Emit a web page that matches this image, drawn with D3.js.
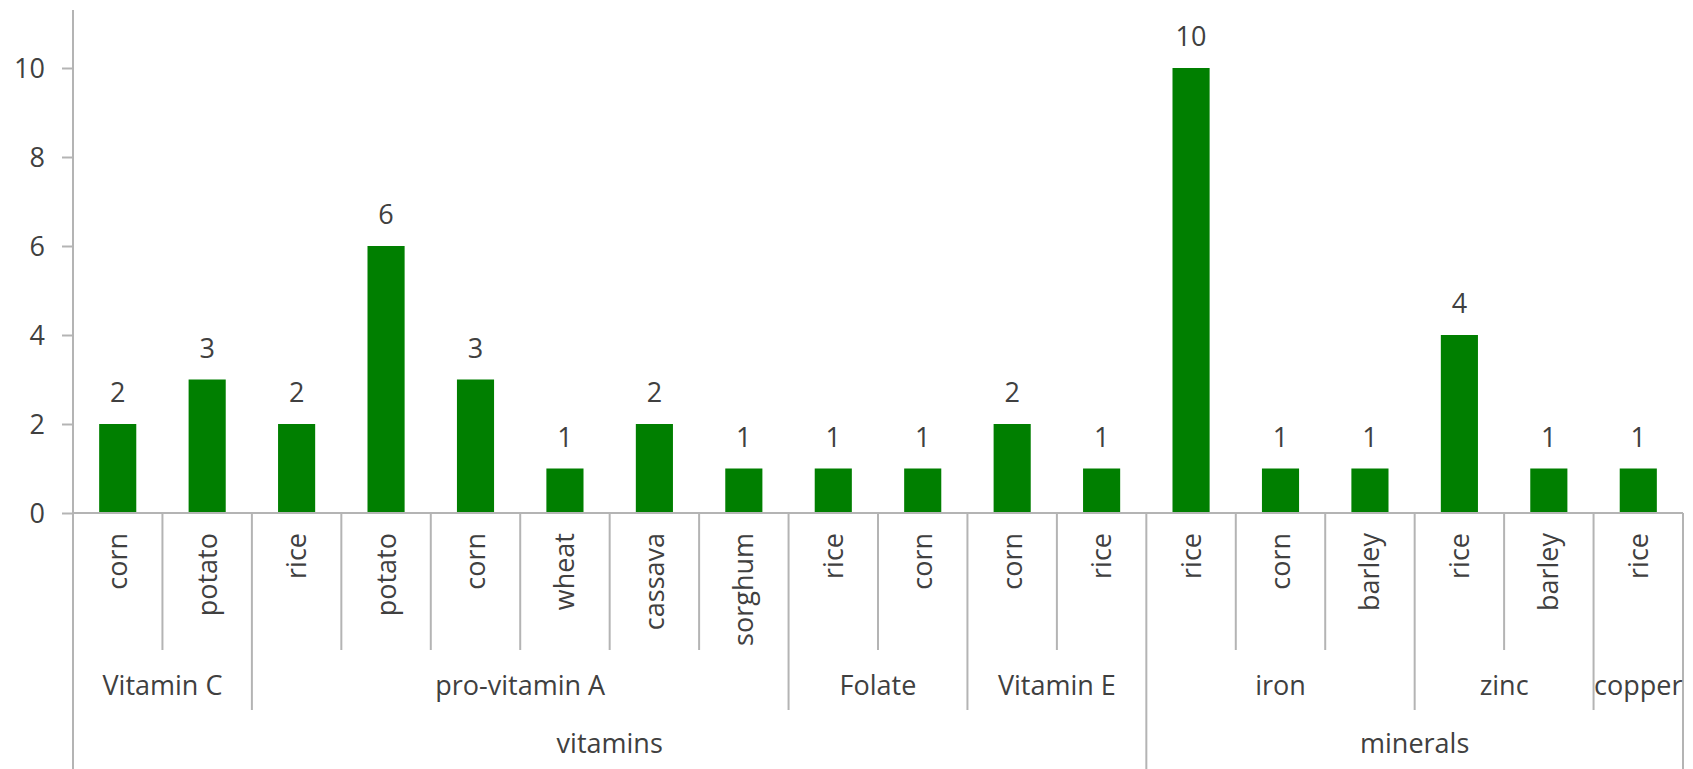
<!DOCTYPE html>
<html>
<head>
<meta charset="utf-8">
<script src="https://cdn.jsdelivr.net/npm/d3@7/dist/d3.min.js"></script>
<style>
  html, body { margin: 0; padding: 0; background: #fff; }
  svg { display: block; }
  text { font-family: "Open Sans", "Noto Sans", sans-serif; fill: #404040; }
</style>
</head>
<body>
<svg id="chart"></svg>
<script>
// bar data, left to right
const crops = ['corn', 'potato', 'rice', 'potato', 'corn', 'wheat', 'cassava', 'sorghum',
    'rice', 'corn', 'corn', 'rice', 'rice', 'corn', 'barley', 'rice', 'barley', 'rice'];
const values = [2, 3, 2, 6, 3, 1, 2, 1, 1, 1, 2, 1, 10, 1, 1, 4, 1, 1];
const nutrients = ['Vitamin C', 'Vitamin C', 'pro-vitamin A', 'pro-vitamin A', 'pro-vitamin A',
    'pro-vitamin A', 'pro-vitamin A', 'pro-vitamin A', 'Folate', 'Folate', 'Vitamin E', 'Vitamin E',
    'iron', 'iron', 'iron', 'zinc', 'zinc', 'copper'];
const classes = ['vitamins', 'vitamins', 'vitamins', 'vitamins', 'vitamins', 'vitamins',
    'vitamins', 'vitamins', 'vitamins', 'vitamins', 'vitamins', 'vitamins',
    'minerals', 'minerals', 'minerals', 'minerals', 'minerals', 'minerals'];
const yTicks = [0, 2, 4, 6, 8, 10];

const W = 1693, H = 769;
const plotLeft = 73, plotRight = 1683, base = 513, plotTop = 68;
const axisColor = '#b4b4b4';
const fontSize = 27;

const svg = d3.select('#chart').attr('width', W).attr('height', H);

const x = d3.scaleBand()
    .domain(d3.range(crops.length))
    .range([plotLeft, plotRight])
    .paddingInner(0.585)
    .paddingOuter(0.2925);

// band edges without padding, for separators
const step = (plotRight - plotLeft) / crops.length;
const edge = (i) => plotLeft + i * step;

const y = d3.scaleLinear().domain([0, 10]).range([base, plotTop]);

// y axis
const axisY = d3.axisLeft(y)
    .tickValues(yTicks)
    .tickSize(11)
    .tickPadding(17)
    .tickFormat(d3.format('d'));

const gy = svg.append('g')
    .attr('transform', `translate(${plotLeft},0)`)
    .call(axisY);
gy.select('.domain').remove();
gy.selectAll('.tick line').attr('stroke', axisColor).attr('stroke-width', 2);
gy.selectAll('.tick text')
    .attr('font-size', fontSize)
    .attr('dy', '0.36em')
    .style('fill', '#404040');

// bars
svg.append('g').selectAll('rect')
    .data(values)
    .join('rect')
    .attr('x', (d, i) => x(i))
    .attr('y', (d) => y(d))
    .attr('width', x.bandwidth())
    .attr('height', (d) => base - y(d))
    .attr('fill', '#007f00');

// value labels
svg.append('g').selectAll('text')
    .data(values)
    .join('text')
    .attr('x', (d, i) => x(i) + x.bandwidth() / 2)
    .attr('y', (d) => y(d) - 22)
    .attr('text-anchor', 'middle')
    .attr('font-size', fontSize)
    .text((d) => d);

// axis lines
const lines = svg.append('g')
    .attr('stroke', axisColor)
    .attr('stroke-width', 2);

lines.append('line')
    .attr('x1', plotLeft).attr('x2', plotLeft)
    .attr('y1', 10).attr('y2', H);

lines.append('line')
    .attr('x1', plotLeft).attr('x2', plotRight)
    .attr('y1', base).attr('y2', base);

// group runs for the multi-level axis
const runs = (arr) => {
    const out = [];
    arr.forEach((v, i) => {
        const last = out[out.length - 1];
        if (last && last.key === v && classes[i] === classes[last.start]) {
            last.end = i + 1;
        } else {
            out.push({ key: v, start: i, end: i + 1 });
        }
    });
    return out;
};

const nutrientRuns = runs(nutrients);
const classRuns = runs(classes);

const nutrientStarts = new Set(nutrientRuns.map((d) => d.start));
const classStarts = new Set(classRuns.map((d) => d.start));

// separators: depth depends on which level the boundary belongs to
d3.range(1, crops.length + 1).forEach((i) => {
    let y2 = 650;
    if (i === crops.length || classStarts.has(i)) {
        y2 = H;
    } else if (nutrientStarts.has(i)) {
        y2 = 710;
    }
    lines.append('line')
        .attr('x1', edge(i)).attr('x2', edge(i))
        .attr('y1', base).attr('y2', y2);
});

// crop labels, rotated
svg.append('g').selectAll('text')
    .data(crops)
    .join('text')
    .attr('transform', (d, i) => `translate(${edge(i) + step / 2},533) rotate(-90)`)
    .attr('dy', '0.35em')
    .attr('text-anchor', 'end')
    .attr('font-size', fontSize)
    .text((d) => d);

// nutrient labels
svg.append('g').selectAll('text')
    .data(nutrientRuns)
    .join('text')
    .attr('x', (d) => (edge(d.start) + edge(d.end)) / 2)
    .attr('y', 695)
    .attr('text-anchor', 'middle')
    .attr('font-size', fontSize)
    .text((d) => d.key);

// class labels
svg.append('g').selectAll('text')
    .data(classRuns)
    .join('text')
    .attr('x', (d) => (edge(d.start) + edge(d.end)) / 2)
    .attr('y', 753)
    .attr('text-anchor', 'middle')
    .attr('font-size', fontSize)
    .text((d) => d.key);
</script>
</body>
</html>
